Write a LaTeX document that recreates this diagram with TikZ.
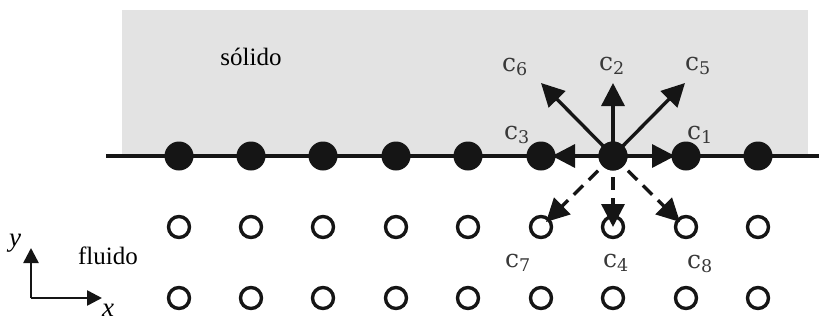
\documentclass[tikz,border=0pt]{standalone}
\usepackage{fontspec}
\setmainfont{Liberation Serif}
\newfontfamily\cfont{DejaVu Serif}
\usetikzlibrary{arrows.meta}
\definecolor{solidgray}{HTML}{E3E3E3}
\definecolor{ink}{HTML}{151515}
\begin{document}
\begin{tikzpicture}[x=1pt,y=-1pt,
  wall/.style={fill=ink,draw=none,circle,minimum size=29pt,inner sep=0pt},
  fluidnode/.style={draw=ink,line width=3.4pt,fill=white,circle,minimum size=21pt,inner sep=0pt},
  vel/.style={ink,line width=3.4pt,-{Triangle[length=23pt,width=23pt]}},
  veldash/.style={vel,dash pattern=on 13pt off 8pt},
  lbl/.style={font=\cfont\fontsize{25}{25}\selectfont,text=ink!85,inner sep=0pt},
  axis/.style={ink,line width=2.6pt,-{Triangle[length=15pt,width=15pt]}},
  word/.style={font=\fontsize{25}{25}\selectfont,inner sep=0pt}]
\useasboundingbox (0,0) rectangle (819,322);
% solid region
\fill[solidgray] (122,10) rectangle (808,156);
\node[word] (solido) at (251,57) {sólido};
% wall line
\coordinate (wl) at (106,156);
\coordinate (wr) at (819,156);
\draw[ink,line width=3.6pt] (wl) -- (wr);
% wall nodes
\foreach \i/\x in {1/179,2/251,3/323,4/396,5/468,6/541,7/613,8/686,9/758}{
  \node[wall] (w\i) at (\x,156) {};
}
% fluid nodes
\foreach \i/\x in {1/179,2/251,3/323,4/396,5/468,6/541,7/613,8/686,9/758}{
  \node[fluidnode] (a\i) at (\x,227) {};
  \node[fluidnode] (b\i) at (\x,298) {};
}
% velocity directions
\coordinate (t1) at (675,156);
\coordinate (t2) at (613,83);
\coordinate (t3) at (552,156);
\coordinate (t5) at (685,83);
\coordinate (t6) at (541,83);
\coordinate (t7) at (546,222);
\coordinate (t4) at (613,227);
\coordinate (t8) at (680,222);
\draw[vel] (w7.center) -- (t1);
\draw[vel] (w7.center) -- (t2);
\draw[vel] (w7.center) -- (t3);
\draw[vel] (w7.center) -- (t5);
\draw[vel] (w7.center) -- (t6);
\draw[veldash] (w7.center) -- (t7);
\draw[veldash] (w7.center) -- (t4);
\draw[veldash] (w7.center) -- (t8);
\node[wall] at (w7) {};
% labels
\node[lbl] (c1) at (700,135) {c\textsubscript{1}};
\node[lbl] (c2) at (612,66) {c\textsubscript{2}};
\node[lbl] (c3) at (517,135) {c\textsubscript{3}};
\node[lbl] (c5) at (698,66) {c\textsubscript{5}};
\node[lbl] (c6) at (515,67) {c\textsubscript{6}};
\node[lbl] (c7) at (518,263) {c\textsubscript{7}};
\node[lbl] (c4) at (616,263) {c\textsubscript{4}};
\node[lbl] (c8) at (700,264) {c\textsubscript{8}};
% fluid label and axes
\node[word] (fluido) at (108,256) {fluido};
\coordinate (o) at (31,298);
\coordinate (ye) at (31,248);
\coordinate (xe) at (102,298);
\draw[axis] (o) -- (ye);
\draw[axis] (o) -- (xe);
\node[word,font=\fontsize{27}{27}\selectfont\itshape] (ylab) at (15,243) {y};
\node[word,font=\fontsize{27}{27}\selectfont\itshape] (xlab) at (108,310) {x};
\end{tikzpicture}
\end{document}
